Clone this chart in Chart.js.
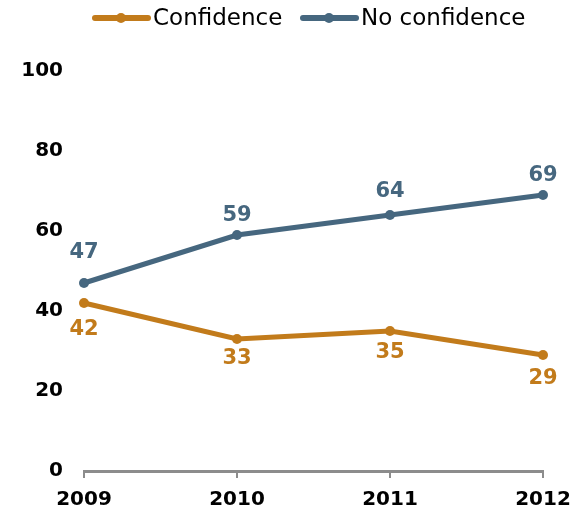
<!DOCTYPE html>
<html>
<head>
<meta charset="utf-8">
<script src="https://cdn.jsdelivr.net/npm/chart.js@4/dist/chart.umd.min.js"></script>
<style>
  html, body { margin: 0; padding: 0; background: #fff; }
  #wrap { width: 581px; height: 512px; position: relative; }
</style>
</head>
<body>
<div id="wrap"><canvas id="c" width="581" height="512"></canvas></div>
<script>
// Survey years and share (%) of respondents
const years = ['2009', '2010', '2011', '2012'];
const confidence = [42, 33, 35, 29];
const noConfidence = [47, 59, 64, 69];
const yTicks = [0, 20, 40, 60, 80, 100];

const ORANGE = '#C27B1B';
const BLUE = '#46677F';
const FONT = '"DejaVu Sans", Verdana, sans-serif';

// Vertical nudge (px) of each value label from its point, kept clear of the lines
const labelNudge = {
  confidence: [27, 20, 22, 24],
  noConfidence: [-30, -19, -23, -19]
};

// Value labels drawn next to each point in the series colour
const valueLabels = {
  id: 'valueLabels',
  afterDatasetsDraw(chart) {
    const ctx = chart.ctx;
    ctx.save();
    ctx.font = 'bold 21px ' + FONT;
    ctx.textAlign = 'center';
    ctx.textBaseline = 'middle';
    chart.data.datasets.forEach((ds, i) => {
      const meta = chart.getDatasetMeta(i);
      const nudge = labelNudge[ds.key];
      ctx.fillStyle = ds.borderColor;
      meta.data.forEach((pt, j) => {
        ctx.fillText(String(ds.data[j]), pt.x, pt.y + nudge[j]);
      });
    });
    ctx.restore();
  }
};

// Legend with a line-and-dot swatch per series
const lineLegend = {
  id: 'lineLegend',
  afterDraw(chart) {
    const ctx = chart.ctx;
    const items = [
      { x: 93, text: 'Confidence', color: ORANGE },
      { x: 301, text: 'No confidence', color: BLUE }
    ];
    const y = 18;
    ctx.save();
    items.forEach(it => {
      ctx.strokeStyle = it.color;
      ctx.lineWidth = 6;
      ctx.lineCap = 'round';
      ctx.beginPath();
      ctx.moveTo(it.x + 2, y);
      ctx.lineTo(it.x + 55, y);
      ctx.stroke();
      ctx.fillStyle = it.color;
      ctx.beginPath();
      ctx.arc(it.x + 28, y, 5, 0, Math.PI * 2);
      ctx.fill();
      ctx.fillStyle = '#000';
      ctx.font = '23px ' + FONT;
      ctx.textAlign = 'left';
      ctx.textBaseline = 'middle';
      ctx.fillText(it.text, it.x + 60, y + 1);
    });
    ctx.restore();
  }
};

new Chart(document.getElementById('c'), {
  type: 'line',
  data: {
    labels: years,
    datasets: [
      {
        key: 'confidence',
        label: 'Confidence',
        data: confidence,
        borderColor: ORANGE,
        backgroundColor: ORANGE,
        borderWidth: 5,
        pointRadius: 5,
        pointBorderWidth: 0,
        pointHoverRadius: 5,
        tension: 0
      },
      {
        key: 'noConfidence',
        label: 'No confidence',
        data: noConfidence,
        borderColor: BLUE,
        backgroundColor: BLUE,
        borderWidth: 5,
        pointRadius: 5,
        pointBorderWidth: 0,
        pointHoverRadius: 5,
        tension: 0
      }
    ]
  },
  options: {
    responsive: false,
    animation: false,
    layout: { padding: { top: 71, right: 38, bottom: 0, left: 0 } },
    plugins: {
      legend: { display: false },
      tooltip: { enabled: false }
    },
    scales: {
      x: {
        offset: false,
        grid: {
          drawOnChartArea: false,
          drawTicks: true,
          tickLength: 7,
          color: '#8C8C8C',
          lineWidth: 2
        },
        border: { display: true, color: '#8C8C8C', width: 3 },
        ticks: {
          color: '#000',
          font: { family: FONT, size: 20, weight: 'bold' },
          padding: 10,
          maxRotation: 0
        },
        afterFit(scale) { scale.height = 41; }
      },
      y: {
        min: 0,
        max: 100,
        afterBuildTicks(scale) { scale.ticks = yTicks.map(v => ({ value: v })); },
        grid: { display: false },
        border: { display: false },
        ticks: {
          color: '#000',
          font: { family: FONT, size: 20, weight: 'bold' },
          padding: 13
        },
        afterFit(scale) { scale.width = 84; }
      }
    }
  },
  plugins: [valueLabels, lineLegend]
});
</script>
</body>
</html>
